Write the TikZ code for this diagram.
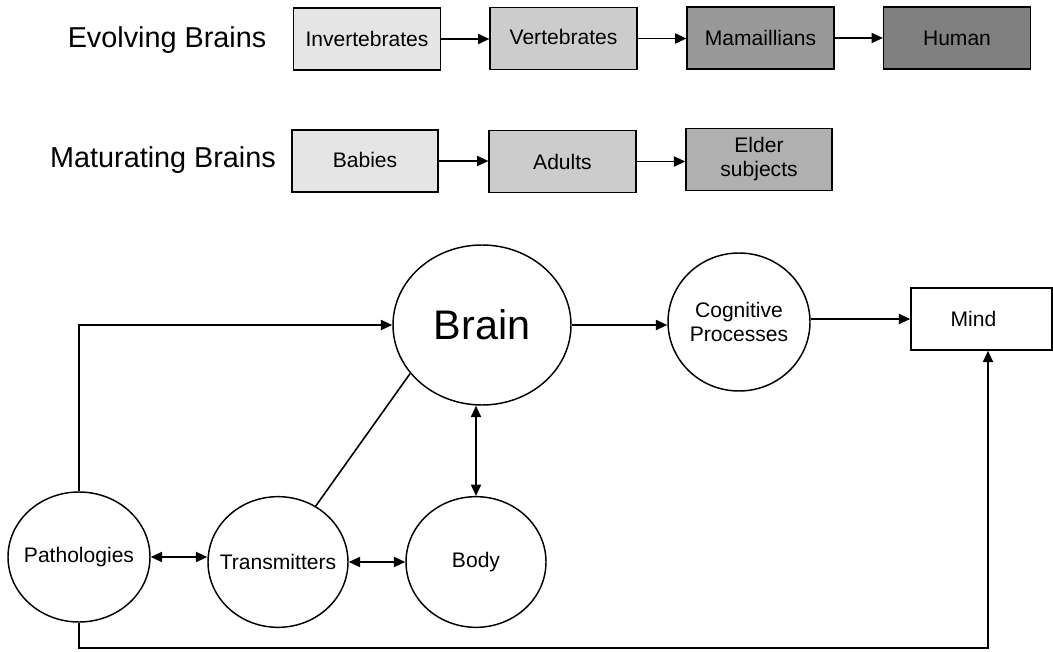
\documentclass[tikz,border=0pt]{standalone}
\usepackage{fontspec}
\setmainfont{Liberation Sans}
\usetikzlibrary{arrows.meta,shapes.geometric}

\definecolor{shadeA}{gray}{0.90}
\definecolor{shadeB}{gray}{0.80}
\definecolor{shadeC}{gray}{0.60}
\definecolor{shadeD}{gray}{0.50}
\definecolor{shadeE}{gray}{0.69}

\begin{document}
\begin{tikzpicture}[x=0.75pt, y=-0.75pt,
    box/.style={draw, line width=1.1pt, minimum width=110pt, minimum height=46.5pt,
	inner sep=0pt, align=center, font=\fontsize{15.8}{18}\selectfont},
    blob/.style={draw, ellipse, line width=1.1pt, inner sep=-8pt, align=center,
	font=\fontsize{15.8}{18}\selectfont},
    heading/.style={font=\fontsize{21.6}{26}\selectfont},
    link/.style={line width=1.4pt, -{Triangle[length=8.5pt, width=7.5pt]}},
    both/.style={line width=1.4pt, {Triangle[length=8.5pt, width=7.5pt]}-{Triangle[length=8.5pt, width=7.5pt]}}]
    \useasboundingbox (0, 0) rectangle (1053, 652);

    \node [heading] (evolving) at (167, 40) {Evolving Brains};
    \node [box, fill=shadeA] (invert) at (367, 39) {Invertebrates};
    \node [box, fill=shadeB] (vert) at (563.5, 38.5) {\raisebox{2pt}{Vertebrates}};
    \node [box, fill=shadeC] (mammal) at (760.5, 38) {\raisebox{-3pt}{Mamaillians}};
    \node [box, fill=shadeD] (human) at (957, 38) {\raisebox{-3.5pt}{Human}};
    \draw [link] (invert.east) -- (invert.east -| vert.west);
    \draw [link] (vert.east) -- (vert.east -| mammal.west);
    \draw [link] (mammal.east) -- (mammal.east -| human.west);

    \node [heading] (maturating) at (163, 160) {Maturating Brains};
    \node [box, fill=shadeA, minimum width=109.5pt] (babies) at (365, 161) {\raisebox{1.5pt}{Babies}};
    \node [box, fill=shadeB] (adults) at (562.5, 161.5) {Adults};
    \node [box, fill=shadeE, minimum width=109.5pt] (elder) at (759, 159.5) {Elder\\subjects};
    \draw [link] (babies.east) -- (babies.east -| adults.west);
    \draw [link] (adults.east) -- (adults.east -| elder.west);

    \node [blob, minimum width=133.5pt, minimum height=120pt,
	font=\fontsize{31}{36}\selectfont] (brain) at (482, 325) {Brain};
    \node [blob, minimum width=106.5pt, minimum height=103.5pt] (cognitive) at (739, 322) {Cognitive\\Processes};
    \node [box, minimum width=105.75pt] (mind) at (981.5, 319) {Mind\hspace{12pt}};
    \node [blob, minimum width=106.5pt, minimum height=97.5pt] (patho) at (79, 557) {Pathologies};
    \node [blob, minimum width=105pt, minimum height=98pt] (trans) at (278, 562) {Transmitters};
    \node [blob, minimum width=105pt, minimum height=98pt] (body) at (476, 562) {Body};
    \coordinate (corner) at (988, 648);

    \draw [link] (brain.east) -- (brain.east -| cognitive.west);
    \draw [link] (mind.west -| cognitive.east) -- (mind.west);
    \draw [link] (patho.north) |- (brain.west);
    \draw [link] (patho.south) |- (corner) -- (corner |- mind.south);
    \draw [both] (patho.east) -- (patho.east -| trans.west);
    \draw [both] (trans.east) -- (body.west);
    \draw [both] (body.north |- brain.south) -- (body.north);
    \draw [line width=1.2pt] (trans.56) -- (brain.214);
\end{tikzpicture}
\end{document}
